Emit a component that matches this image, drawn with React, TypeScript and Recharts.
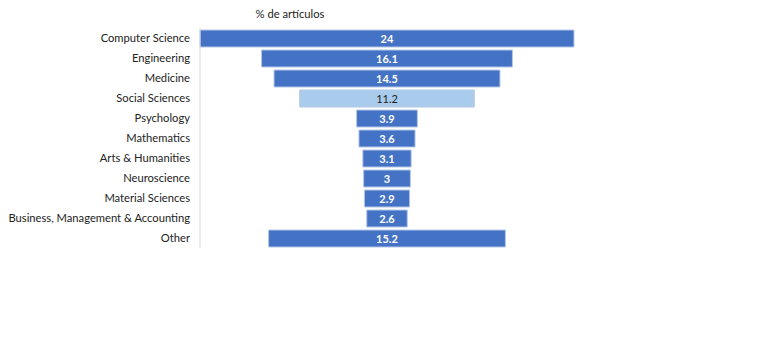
import React from "react";
import { BarChart, Bar, XAxis, YAxis, Cell, LabelList } from "recharts";

const categories = [
  "Computer Science",
  "Engineering",
  "Medicine",
  "Social Sciences",
  "Psychology",
  "Mathematics",
  "Arts & Humanities",
  "Neuroscience",
  "Material Sciences",
  "Business, Management & Accounting",
  "Other",
];
const percentages = [24, 16.1, 14.5, 11.2, 3.9, 3.6, 3.1, 3, 2.9, 2.6, 15.2];
const highlighted = ["Social Sciences"];

const maxValue = Math.max(...percentages);

// Funnel layout: an invisible spacer bar centres each visible bar.
const rows = categories.map((name, i) => ({
  name,
  pad: (maxValue - percentages[i]) / 2,
  value: percentages[i],
}));

const DARK = "#4472C4";
const LIGHT = "#A9CCEC";
const FONT = "Lato, 'Liberation Sans', sans-serif";

const ValueLabel = (props: any) => {
  const { x, y, width, height, value, index } = props;
  const isLight = highlighted.includes(categories[index]);
  return (
    <text
      x={x + width / 2}
      y={y + height / 2}
      textAnchor="middle"
      dominantBaseline="central"
      fontFamily={FONT}
      fontSize={11}
      fontWeight={isLight ? 400 : 700}
      fill={isLight ? "#222" : "#fff"}
    >
      {value}
    </text>
  );
};

// Single-line category label, right-aligned against the axis.
const CategoryTick = (props: any) => {
  const { x, y, payload } = props;
  return (
    <text
      x={x}
      y={y - 1}
      textAnchor="end"
      dominantBaseline="central"
      fontFamily={FONT}
      fontSize={11.2}
      fill="#222"
    >
      {payload.value}
    </text>
  );
};

export default function App() {
  return (
    <div style={{ position: "absolute", left: 0, top: 0, width: 781, height: 344, background: "#fff" }}>
      <div
        style={{
          position: "absolute",
          left: 230,
          top: 7,
          width: 120,
          textAlign: "center",
          fontFamily: FONT,
          fontSize: 11.2,
          color: "#222",
        }}
      >
        % de artículos
      </div>
      <BarChart
        width={781}
        height={344}
        data={rows}
        layout="vertical"
        margin={{ top: 28, right: 207, bottom: 96, left: 0 }}
        barSize={17}
      >
        <XAxis type="number" hide domain={[0, maxValue]} />
        <YAxis
          type="category"
          dataKey="name"
          width={200}
          interval={0}
          tickLine={false}
          tickMargin={4}
          axisLine={{ stroke: "#D9D9D9" }}
          tick={CategoryTick}
        />
        <Bar dataKey="pad" stackId="f" fill="transparent" isAnimationActive={false} />
        <Bar dataKey="value" stackId="f" isAnimationActive={false} stroke="#B4C7E7" strokeWidth={1}>
          {rows.map((r) => (
            <Cell key={r.name} fill={highlighted.includes(r.name) ? LIGHT : DARK} />
          ))}
          <LabelList dataKey="value" content={ValueLabel} />
        </Bar>
      </BarChart>
    </div>
  );
}
